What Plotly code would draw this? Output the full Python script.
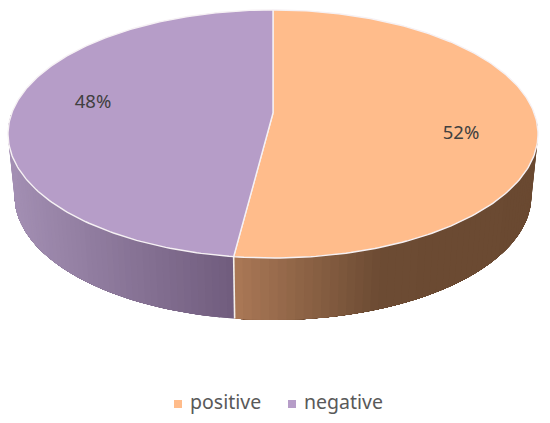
import numpy as np
import plotly.graph_objects as go

categories = ['positive', 'negative']
values = [52, 48]
top_colors = ['#FFBC8B', '#B69DC8']
labels = ['52%', '48%']
label_x = [461, 93]
label_y = [134, 103]
key_x = [178, 292]
key_text_x = [190, 304]
KEY_Y = 404

# side gradient stops: (pixel x, rgb)
side_stops = [
    ([235, 380, 540], [(170, 120, 86), (108, 75, 51), (106, 73, 49)]),
    ([8, 235], [(164, 144, 180), (112, 92, 125)]),
]

# disc projection, tilted with a little perspective
CX, A, B, K, APEX_Y = 273, 261.2, 120.5, 0.169, 113
DEPTH, SHRINK = 62, 0.975


def rim(t, bottom=False):
    """t is degrees clockwise from 12 o'clock"""
    t = np.radians(t)
    px = np.sin(t)
    py = -np.cos(t)
    w = 1 - K * py
    x = A * px / w
    y = B * py / w + APEX_Y
    if bottom:
        return CX + x * SHRINK, y + DEPTH
    return CX + x, y


fig = go.Figure()

# cumulative angles for each slice
edges = np.cumsum([0] + values) / sum(values) * 360

# side wall first, the top covers the rest
# each band runs to the end of its slice and the next one paints over it, so no seams
for i in range(len(values)):
    start = max(edges[i], 90)
    end = min(edges[i + 1], 270)
    steps = np.linspace(start, end, 61)
    xs, rgb = side_stops[i]
    for a, b in zip(steps[:-1], steps[1:]):
        tt = np.linspace(a, end, 60)
        x1, y1 = rim(tt)
        x2, y2 = rim(tt[::-1], bottom=True)
        ax1, _ = rim(np.array([a, b]))
        ax2, _ = rim(np.array([a, b]), bottom=True)
        mx = (ax1.mean() + ax2.mean()) / 2
        c = [round(np.interp(mx, xs, [s[j] for s in rgb])) for j in range(3)]
        col = f'rgb({c[0]},{c[1]},{c[2]})'
        fig.add_trace(go.Scatter(
            x=np.r_[x1, x2], y=np.r_[y1, y2],
            mode='lines', fill='toself', fillcolor=col,
            line=dict(width=0),
            showlegend=False, hoverinfo='skip'
        ))

# seam on the side between the slices
sx1, sy1 = rim(edges[1])
sx2, sy2 = rim(edges[1], bottom=True)
fig.add_trace(go.Scatter(
    x=[sx1, sx2], y=[sy1, sy2], mode='lines',
    line=dict(color='#F4EFEA', width=1.6),
    showlegend=False, hoverinfo='skip'
))

# top slices
for i in range(len(values)):
    tt = np.linspace(edges[i], edges[i + 1], 200)
    x, y = rim(tt)
    fig.add_trace(go.Scatter(
        x=np.r_[CX, x, CX], y=np.r_[APEX_Y, y, APEX_Y],
        mode='lines', fill='toself', fillcolor=top_colors[i],
        line=dict(color='#F6F1F4', width=1.4),
        showlegend=False, hoverinfo='skip'
    ))

# percent labels
fig.add_trace(go.Scatter(
    x=label_x, y=label_y, mode='text', text=labels,
    textfont=dict(family='Noto Sans', size=18.5, color='#404040'),
    showlegend=False, hoverinfo='skip'
))

# key at the bottom, built by hand since the legend keeps a wider swatch gap
fig.add_trace(go.Scatter(
    x=key_x, y=[KEY_Y] * 2, mode='markers',
    marker=dict(symbol='square', size=8, color=top_colors),
    showlegend=False, hoverinfo='skip'
))
fig.add_trace(go.Scatter(
    x=key_text_x, y=[KEY_Y] * 2, mode='text', text=categories,
    textposition='middle right',
    textfont=dict(family='Noto Sans', size=19.5, color='#595959'),
    showlegend=False, hoverinfo='skip'
))

fig.update_layout(
    width=550, height=423,
    margin=dict(l=0, r=0, t=0, b=0),
    paper_bgcolor='white', plot_bgcolor='white',
    showlegend=False,
    xaxis=dict(range=[0, 550], visible=False, fixedrange=True),
    yaxis=dict(range=[423, 0], visible=False, fixedrange=True)
)

fig.write_html("out.html", config={'displayModeBar': False},
               post_script="document.body.style.margin='0';")
